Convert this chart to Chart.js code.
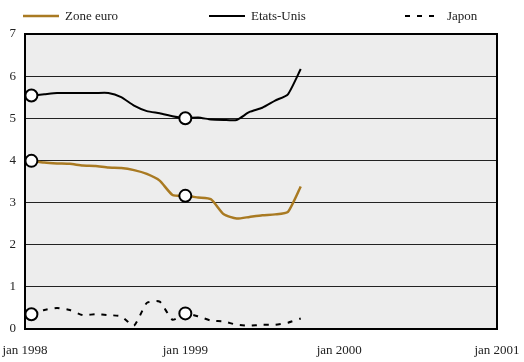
<!DOCTYPE html>
<html>
<head>
<meta charset="utf-8">
<script src="https://cdn.jsdelivr.net/npm/chart.js@4/dist/chart.umd.min.js"></script>
<style>
  html, body { margin: 0; padding: 0; background: #fff; }
</style>
</head>
<body>
<canvas id="chart" width="524" height="362"></canvas>
<script>
// mois depuis janvier 1998
const mois = [0, 1, 2, 3, 4, 5, 6, 7, 8, 9, 10, 11, 12, 13, 14, 15, 16, 17, 18, 19, 20, 21];
const zoneEuro = [3.99, 3.95, 3.93, 3.92, 3.88, 3.87, 3.83, 3.82, 3.77, 3.68, 3.52, 3.18,
                  3.16, 3.12, 3.08, 2.72, 2.62, 2.66, 2.70, 2.72, 2.78, 3.38];
const etatsUnis = [5.54, 5.57, 5.60, 5.60, 5.60, 5.60, 5.60, 5.50, 5.30, 5.17, 5.12, 5.05,
                   5.00, 5.02, 4.97, 4.96, 4.96, 5.15, 5.25, 5.42, 5.57, 6.17];
const japon = [0.35, 0.45, 0.50, 0.45, 0.33, 0.35, 0.33, 0.30, 0.08, 0.62, 0.65, 0.22,
               0.37, 0.30, 0.20, 0.18, 0.10, 0.08, 0.10, 0.10, 0.15, 0.25];
const moisMarques = [0, 12];
const tickPositions = [-0.5, 12, 24, 36.3];
const tickLabels = ['jan 1998', 'jan 1999', 'jan 2000', 'jan 2001'];

Chart.defaults.font.family = '"Liberation Serif", "Times New Roman", serif';
Chart.defaults.font.size = 13;
Chart.defaults.color = '#222';

function serie(label, values, color, width, dash) {
    return {
        label: label,
        data: values.map((v, i) => ({ x: mois[i], y: v })),
        borderColor: color,
        borderWidth: width,
        borderDash: dash,
        tension: 0.18,
        clip: 10,
        pointRadius: ctx => moisMarques.includes(ctx.dataIndex) ? 6 : 0,
        pointHoverRadius: 0,
        pointBackgroundColor: '#fff',
        pointBorderColor: '#000',
        pointBorderWidth: 2
    };
}

const fondPlugin = {
    id: 'fond',
    beforeDraw(chart) {
        const a = chart.chartArea, ctx = chart.ctx;
        ctx.save();
        ctx.fillStyle = '#ededed';
        ctx.fillRect(a.left, a.top, a.right - a.left, a.bottom - a.top);
        ctx.restore();
    },
    beforeDatasetsDraw(chart) {
        const a = chart.chartArea, ctx = chart.ctx;
        ctx.save();
        ctx.strokeStyle = '#000';
        ctx.lineWidth = 2;
        ctx.strokeRect(a.left, a.top, a.right - a.left, a.bottom - a.top);
        ctx.restore();
    }
};

const legendePlugin = {
    id: 'legende',
    afterDraw(chart) {
        const ctx = chart.ctx;
        const xs = [23, 209, 405];
        const y = 16;
        ctx.save();
        chart.data.datasets.forEach((ds, i) => {
            ctx.beginPath();
            ctx.strokeStyle = ds.borderColor;
            ctx.lineWidth = ds.borderWidth;
            ctx.setLineDash(ds.borderDash || []);
            ctx.moveTo(xs[i], y);
            ctx.lineTo(xs[i] + 36, y);
            ctx.stroke();
            ctx.setLineDash([]);
            ctx.fillStyle = '#222';
            ctx.font = '13px "Liberation Serif", serif';
            ctx.textBaseline = 'middle';
            ctx.fillText(ds.label, xs[i] + 42, y + 1);
        });
        ctx.restore();
    }
};

new Chart(document.getElementById('chart'), {
    type: 'line',
    data: {
        datasets: [
            serie('Zone euro', zoneEuro, '#a97a22', 2.5, []),
            serie('Etats-Unis', etatsUnis, '#000', 2, []),
            serie('Japon', japon, '#000', 2, [5, 7])
        ]
    },
    options: {
        responsive: false,
        animation: false,
        layout: { padding: { top: 34, right: 27, left: 0, bottom: 0 } },
        plugins: { legend: { display: false }, tooltip: { enabled: false } },
        scales: {
            x: {
                type: 'linear',
                min: -0.5,
                max: 36.3,
                afterBuildTicks: s => { s.ticks = tickPositions.map(v => ({ value: v })); },
                afterFit: s => { s.height = 33; s.paddingLeft = 0; s.paddingRight = 0; },
                grid: { display: false, drawTicks: false },
                border: { display: false },
                ticks: {
                    padding: 14,
                    maxRotation: 0,
                    autoSkip: false,
                    callback: (v, i) => tickLabels[i]
                }
            },
            y: {
                min: 0,
                max: 7,
                afterFit: s => { s.width = 25; s.paddingTop = 0; s.paddingBottom = 0; },
                grid: { color: '#222', lineWidth: 1, drawTicks: false },
                border: { display: false },
                ticks: { stepSize: 1, padding: 9 }
            }
        }
    },
    plugins: [fondPlugin, legendePlugin]
});
</script>
</body>
</html>
